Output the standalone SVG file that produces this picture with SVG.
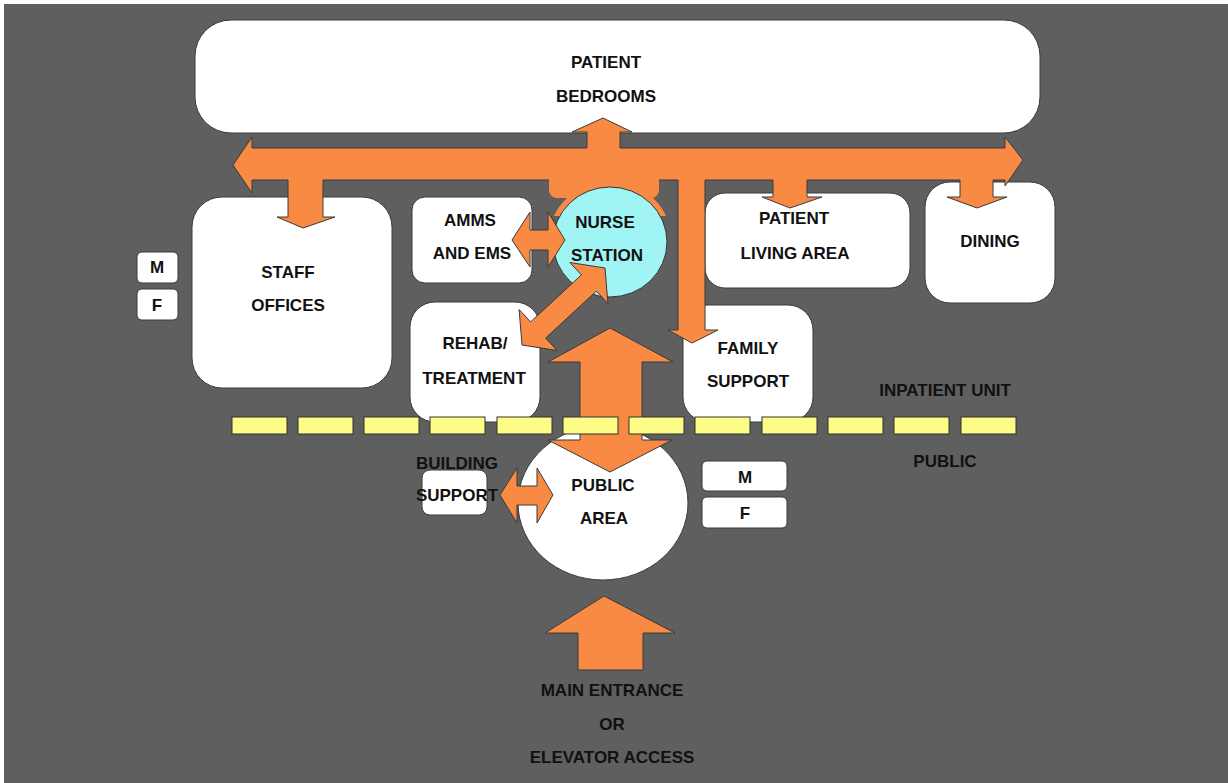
<svg xmlns="http://www.w3.org/2000/svg" width="1228" height="783" viewBox="0 0 1228 783">
<style>
.box{fill:#ffffff;stroke:#3a3a3a;stroke-width:1}
.arr{fill:#F98A43;stroke:#3a3a3a;stroke-width:1;stroke-linejoin:round}
.fillonly{fill:#F98A43;stroke:none}
.lineonly{fill:none;stroke:#3a3a3a;stroke-width:1;stroke-linejoin:round}
.dash{fill:#FCFC86;stroke:#333;stroke-width:1}
.t{font-family:"Liberation Sans",Arial,sans-serif;font-weight:bold;font-size:17px;fill:#111;text-anchor:middle}
</style>
<defs>
<clipPath id="ringClip"><rect x="540" y="170" width="140" height="46"/></clipPath>
</defs>
<rect x="0" y="0" width="1228" height="783" fill="#ffffff"/>
<rect x="4" y="4" width="1224" height="779" fill="#5f5f5f"/>

<g id="patient-bedrooms">
<rect class="box" x="195" y="20" width="845" height="113" rx="36"/>
<text class="t" x="606" y="68">PATIENT</text>
<text class="t" x="606" y="102">BEDROOMS</text>
</g>

<g id="staff-offices">
<rect class="box" x="192" y="197" width="200" height="191" rx="30"/>
<text class="t" x="288" y="278">STAFF</text>
<text class="t" x="288" y="311">OFFICES</text>
</g>

<g id="staff-m">
<rect class="box" x="137" y="252" width="41" height="31" rx="5"/>
<text class="t" x="157" y="273">M</text>
</g>
<g id="staff-f">
<rect class="box" x="137" y="289" width="41" height="31" rx="5"/>
<text class="t" x="157" y="311">F</text>
</g>

<g id="amms">
<rect class="box" x="412" y="197" width="120" height="86" rx="13"/>
<text class="t" x="470" y="226">AMMS</text>
<text class="t" x="472" y="259">AND EMS</text>
</g>

<g id="nurse-station">
<g clip-path="url(#ringClip)" fill="#F98A43">
<ellipse cx="610" cy="242" rx="62" ry="61"/>
<rect x="549" y="170" width="110" height="28" rx="8"/>
</g>
<ellipse cx="610" cy="242" rx="57" ry="55" fill="#A0F4F4" stroke="#333" stroke-width="1"/>
<text class="t" x="605" y="228">NURSE</text>
<text class="t" x="607" y="261">STATION</text>
</g>

<g id="patient-living-area">
<rect class="box" x="705" y="193" width="205" height="95" rx="20"/>
<text class="t" x="794" y="224">PATIENT</text>
<text class="t" x="795" y="259">LIVING AREA</text>
</g>

<g id="dining">
<rect class="box" x="925" y="182" width="130" height="121" rx="25"/>
<text class="t" x="990" y="247">DINING</text>
</g>

<g id="rehab">
<rect class="box" x="410" y="302" width="130" height="120" rx="25"/>
<text class="t" x="475" y="349">REHAB/</text>
<text class="t" x="474" y="384">TREATMENT</text>
</g>

<g id="family-support">
<rect class="box" x="683" y="305" width="130" height="117" rx="25"/>
<text class="t" x="748" y="354">FAMILY</text>
<text class="t" x="748" y="387">SUPPORT</text>
</g>

<g id="public-area">
<ellipse cx="603" cy="503" rx="85" ry="77" fill="#ffffff" stroke="#3a3a3a" stroke-width="1"/>
<text class="t" x="603" y="491">PUBLIC</text>
<text class="t" x="604" y="524">AREA</text>
</g>

<g id="building-support">
<rect class="box" x="422" y="470" width="65" height="45" rx="8"/>
<text class="t" x="457" y="469">BUILDING</text>
<text class="t" x="457" y="501">SUPPORT</text>
</g>

<g id="public-m">
<rect class="box" x="702" y="461" width="85" height="30" rx="5"/>
<text class="t" x="745" y="483">M</text>
</g>
<g id="public-f">
<rect class="box" x="702" y="497" width="85" height="31" rx="5"/>
<text class="t" x="745" y="519">F</text>
</g>

<g id="connectors">
<path class="fillonly" d="M233,165 L252,137 L252,148 L587,148 L587,132 L572,132 L603,118 L632,132 L620,132 L620,148 L1005,148 L1005,137 L1023,160 L1005,186 L1005,180 L993,180 L993,197 L1007,197 L977,208 L947,197 L960,197 L960,180 L807,180 L807,197 L822,197 L790,208 L762,197 L773,197 L773,180 L705,180 L705,330 L718,330 L692,343 L668,330 L678,330 L678,180 L323,180 L323,217 L335,217 L303,228 L277,217 L288,217 L288,180 L252,180 L252,193 Z"/>
<path class="lineonly" d="M549,180 L323,180 L323,217 L335,217 L303,228 L277,217 L288,217 L288,180 L252,180 L252,193 L233,165 L252,137 L252,148 L587,148 L587,132 L572,132 L603,118 L632,132 L620,132 L620,148 L1005,148 L1005,137 L1023,160 L1005,186 L1005,180 L993,180 L993,197 L1007,197 L977,208 L947,197 L960,197 L960,180 L807,180 L807,197 L822,197 L790,208 L762,197 L773,197 L773,180 L705,180 L705,330 L718,330 L692,343 L668,330 L678,330 L678,180 L659,180"/>
<path class="arr" d="M512,240 L530,212 L530,230 L548,230 L548,212 L565,240 L548,267 L548,250 L530,250 L530,267 Z"/>
<path class="arr" d="M522,345 L557.1,350.5 L545.6,338.1 L596.4,291.1 L607.9,303.5 L605,268 L569.9,262.5 L581.4,274.9 L530.6,321.9 L519.1,309.5 Z"/>
<path class="arr" d="M610,328 L673,362 L642,362 L642,440 L672,440 L610,472 L548,440 L580,440 L580,362 L548,362 Z"/>
<path class="arr" d="M500,495 L517,468 L517,486 L537,486 L537,468 L553,495 L537,523 L537,505 L517,505 L517,523 Z"/>
<path class="arr" d="M604,596 L675,633 L643,633 L643,670 L578,670 L578,633 L545,633 Z"/>
</g>

<g id="boundary">
<rect class="dash" x="232" y="417" width="55" height="17"/>
<rect class="dash" x="298" y="417" width="55" height="17"/>
<rect class="dash" x="364" y="417" width="55" height="17"/>
<rect class="dash" x="430" y="417" width="55" height="17"/>
<rect class="dash" x="497" y="417" width="55" height="17"/>
<rect class="dash" x="563" y="417" width="55" height="17"/>
<rect class="dash" x="629" y="417" width="55" height="17"/>
<rect class="dash" x="695" y="417" width="55" height="17"/>
<rect class="dash" x="762" y="417" width="55" height="17"/>
<rect class="dash" x="828" y="417" width="55" height="17"/>
<rect class="dash" x="894" y="417" width="55" height="17"/>
<rect class="dash" x="961" y="417" width="55" height="17"/>
<text class="t" x="945" y="396">INPATIENT UNIT</text>
<text class="t" x="945" y="467">PUBLIC</text>
</g>

<g id="entrance-label">
<text class="t" x="612" y="696">MAIN ENTRANCE</text>
<text class="t" x="612" y="730">OR</text>
<text class="t" x="612" y="763">ELEVATOR ACCESS</text>
</g>
</svg>
